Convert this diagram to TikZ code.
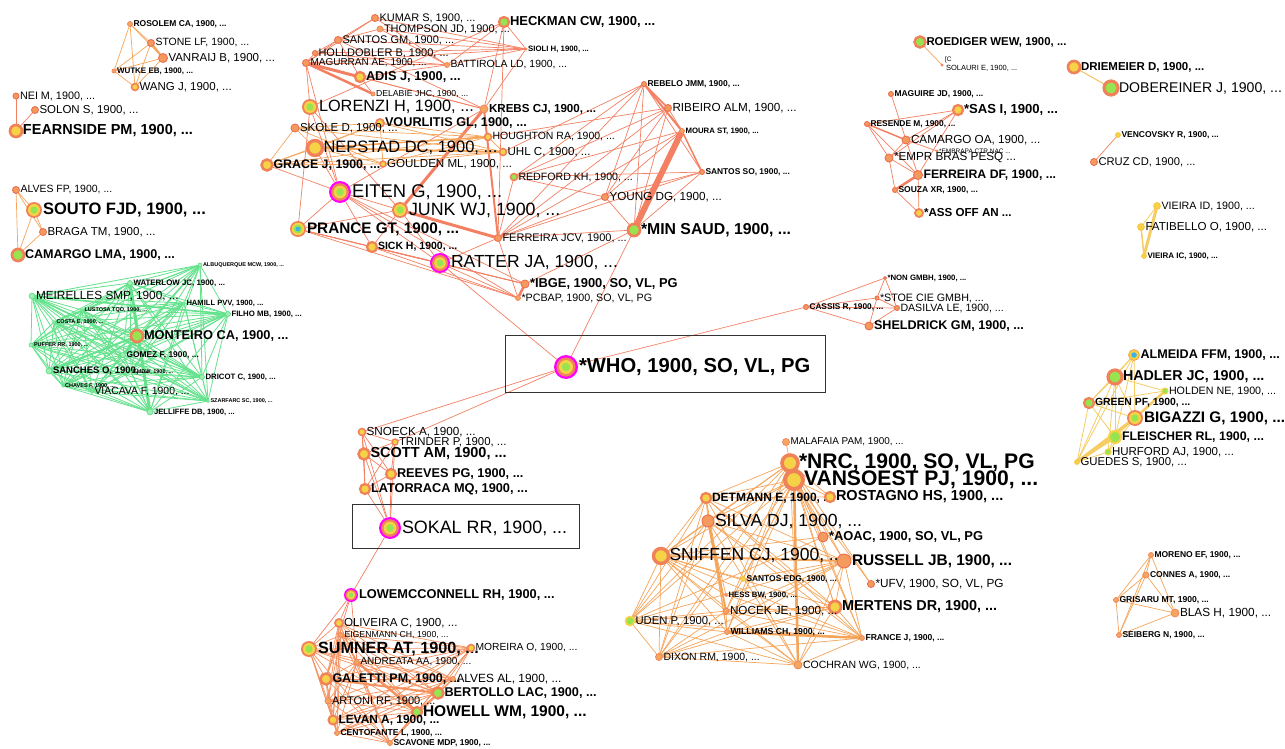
\documentclass[tikz,border=0pt]{standalone}
\usepackage{fontspec}
\setmainfont{Liberation Sans}
\usetikzlibrary{backgrounds}
\definecolor{cO}{RGB}{240,130,90}
\definecolor{cR}{RGB}{236,112,82}
\definecolor{cOl}{RGB}{245,165,95}
\definecolor{cY}{RGB}{246,210,70}
\definecolor{cG}{RGB}{150,228,80}
\definecolor{cM}{RGB}{255,0,255}
\definecolor{cB}{RGB}{60,180,230}
\definecolor{cLG}{RGB}{160,238,180}
\definecolor{cLGd}{RGB}{90,220,130}
\definecolor{cER}{RGB}{243,128,98}
\definecolor{cEO}{RGB}{245,165,90}
\definecolor{cEG}{RGB}{100,226,140}
\definecolor{cEY}{RGB}{245,205,100}
\tikzset{
 nb/.style={circle, inner sep=0pt, outer sep=0pt, minimum size={2*#1pt}},
 sO/.style={nb=#1, fill=cOl, draw=cO, line width=0.7pt},
 sR/.style={nb=#1, fill=cOl!80!cR, draw=cR, line width=0.9pt},
 sY/.style={nb=#1, fill=cY, draw=cO, line width={0.45*#1pt}},
 sG/.style={nb=#1, fill=cG, draw=cO, line width={0.45*#1pt}},
 sGG/.style={nb=#1, fill=cG, draw=cY, line width={0.35*#1pt}},
 sYY/.style={nb=#1, fill=cY, draw=cY!80!orange, line width=0.6pt},
 sLG/.style={nb=#1, fill=cLG, draw=cLGd, line width=0.6pt},
 sGY/.style={nb=#1, fill=cO, path picture={
   \fill[cY] (path picture bounding box.center) circle[radius={0.75*#1pt}];
   \fill[cG] (path picture bounding box.center) circle[radius={0.45*#1pt}];}},
 sM/.style={nb=#1, fill=cM, path picture={
   \fill[cO] (path picture bounding box.center) circle[radius={0.8*#1pt}];
   \fill[cY] (path picture bounding box.center) circle[radius={0.58*#1pt}];
   \fill[cG] (path picture bounding box.center) circle[radius={0.35*#1pt}];}},
 sB/.style={nb=#1, fill=cO, path picture={
   \fill[cY] (path picture bounding box.center) circle[radius={0.78*#1pt}];
   \fill[cG] (path picture bounding box.center) circle[radius={0.55*#1pt}];
   \fill[cB] (path picture bounding box.center) circle[radius={0.3*#1pt}];}},
 sAl/.style={nb=#1, fill=cY, draw=cO!60!cY, line width=0.8pt, path picture={
   \fill[cB] (path picture bounding box.center) circle[radius={0.5*#1pt}];}},
 lr/.style={anchor=west, inner sep=0.8pt, font={\fontsize{#1}{#1}\selectfont}},
 lb/.style={anchor=west, inner sep=0.8pt, font={\fontsize{#1}{#1}\selectfont\bfseries}},
 eR/.style={draw=cER, line width=0.7pt},
 eO/.style={draw=cEO, line width=0.7pt},
 eG/.style={draw=cEG, line width=0.8pt},
 eY/.style={draw=cEY, line width=0.8pt},
 eS/.style={draw=cER!55!cEO, line width=0.7pt},
 hl/.style={draw=black!80, line width=0.9pt},
}
\newcommand\NL[6]{\node[#4] (#1) at (#2,#3) {}; \node[#5] (#1-t) at (#1.east) {#6};}
\newcommand\allpairs[2]{\foreach \a [count=\i] in {#2}{\foreach \b [count=\j] in {#2}{\ifnum\j>\i\relax \draw[#1] (\a) -- (\b);\fi}}}
\begin{document}
\begin{tikzpicture}[x=1pt,y=-1pt]
\useasboundingbox (0,0) rectangle (1285,749);
% ---------- top-left
\NL{rosolem}{130}{24}{sO=2.5}{lb=8.5}{ROSOLEM CA, 1900, ...}
\NL{stone}{151}{43}{sR=3.5}{lr=10.5}{STONE LF, 1900, ...}
\NL{vanraij}{163}{58}{sR=4.5}{lr=11.5}{VANRAIJ B, 1900, ...}
\NL{wutke}{114}{71}{sO=2}{lb=8}{WUTKE EB, 1900, ...}
\NL{wang}{135}{87}{sY=3.5}{lr=11.5}{WANG J, 1900, ...}
\NL{nei}{16}{96}{sR=3}{lr=10.8}{NEI M, 1900, ...}
\NL{solon}{35}{110}{sR=3.5}{lr=11.5}{SOLON S, 1900, ...}
\NL{fearnside}{16}{131}{sY=6}{lb=14.5}{FEARNSIDE PM, 1900, ...}
\NL{alvesfp}{16}{190}{sR=3.5}{lr=10.5}{ALVES FP, 1900, ...}
\NL{souto}{34}{210}{sGY=8}{lb=16.5}{SOUTO FJD, 1900, ...}
\NL{braga}{43}{232}{sR=3.5}{lr=11.5}{BRAGA TM, 1900, ...}
\NL{camlma}{18}{255}{sG=6}{lb=12.6}{CAMARGO LMA, 1900, ...}
% ---------- green cluster
\NL{albu}{200}{265}{sLG=2}{lb=5.5}{ALBUQUERQUE MCW, 1900, ...}
\NL{waterlow}{130}{283}{sLG=2.5}{lb=7.9}{WATERLOW JC, 1900, ...}
\NL{meirelles}{32}{296}{sLG=3}{lr=11.8}{MEIRELLES SMP, 1900, ...}
\NL{hamill}{184}{303}{sLG=1.5}{lb=7.6}{HAMILL PVV, 1900, ...}
\NL{lustosa}{82}{310}{sLG=1.5}{lb=5.5}{LUSTOSA TQO, 1900, ...}
\NL{filho}{228}{314}{sLG=2.5}{lb=7.8}{FILHO MB, 1900, ...}
\NL{costa}{54}{322}{sLG=1.5}{lb=5.5}{COSTA E, 1900, ...}
\NL{monteiro}{137}{336}{sG=6}{lb=12.8}{MONTEIRO CA, 1900, ...}
\NL{puffer}{31}{345}{sLG=2}{lb=5.5}{PUFFER RR, 1900, ...}
\NL{gomez}{123}{355}{sLG=2.5}{lb=8.4}{GOMEZ F, 1900, ...}
\NL{sanches}{49}{371}{sLG=3}{lb=9.5}{SANCHES O, 1900, ...}
\NL{emdw}{131}{372}{sLG=1.2}{lb=5.5}{EMDW, 1900, ...}
\NL{chaves}{63}{386}{sLG=1.2}{lb=5.5}{CHAVES F, 1900, ...}
\NL{dricot}{202}{377}{sLG=2.5}{lb=7.8}{DRICOT C, 1900, ...}
\NL{viacava}{92}{392}{sLG=1.5}{lr=10.4}{VIACAVA F, 1900, ...}
\NL{szarfarc}{208}{401}{sLG=1.5}{lb=5.5}{SZARFARC SC, 1900, ...}
\NL{jelliffe}{150}{412}{sLG=3}{lb=7.7}{JELLIFFE DB, 1900, ...}
% ---------- top-middle
\NL{kumar}{375}{18}{sR=3.5}{lr=11}{KUMAR S, 1900, ...}
\NL{thompson}{380}{29}{sO=3}{lr=11}{THOMPSON JD, 1900, ...}
\NL{heckman}{504}{22}{sG=5}{lb=13}{HECKMAN CW, 1900, ...}
\NL{santosgm}{338}{40}{sR=3.5}{lr=11}{SANTOS GM, 1900, ...}
\NL{sioli}{526}{49}{sO=1.2}{lb=7.8}{SIOLI H, 1900, ...}
\NL{holldobler}{315}{53}{sR=2.5}{lr=11}{HOLLDOBLER B, 1900, ...}
\NL{magurran}{306}{63}{sR=3.5}{lr=10}{MAGURRAN AE, 1900, ...}
\NL{battirola}{447}{65}{sO=2.5}{lr=10.4}{BATTIROLA LD, 1900, ...}
\NL{adis}{360}{77}{sY=5}{lb=12.8}{ADIS J, 1900, ...}
\NL{delabie}{373}{94}{sO=2}{lr=8.7}{DELABIE JHC, 1900, ...}
\NL{lorenzi}{310}{107}{sGY=8}{lr=16.3}{LORENZI H, 1900, ...}
\NL{krebs}{484}{109}{sO=4}{lb=11.6}{KREBS CJ, 1900, ...}
\NL{vourlitis}{380}{123}{sY=4}{lb=12.7}{VOURLITIS GL, 1900, ...}
\NL{skole}{295}{128}{sR=4}{lr=11.5}{SKOLE D, 1900, ...}
\NL{houghton}{488}{137}{sY=3.5}{lr=10.5}{HOUGHTON RA, 1900, ...}
\NL{nepstad}{315}{148}{sY=7.5}{lr=16.5}{NEPSTAD DC, 1900, ...}
\NL{uhl}{503}{152}{sY=3.5}{lr=11.6}{UHL C, 1900, ...}
\NL{grace}{267}{165}{sY=5.5}{lb=12.4}{GRACE J, 1900, ...}
\NL{goulden}{383}{164}{sY=3}{lr=11.6}{GOULDEN ML, 1900, ...}
\NL{redford}{514}{177}{sG=3.5}{lr=10.6}{REDFORD KH, 1900, ...}
\NL{eiten}{340}{192}{sM=11}{lr=18.4}{EITEN G, 1900, ...}
\NL{young}{605}{197}{sR=3.5}{lr=11.7}{YOUNG DG, 1900, ...}
\NL{junk}{400}{210}{sGY=8}{lr=17.8}{JUNK WJ, 1900, ...}
\NL{prance}{298}{229}{sB=8}{lb=15.3}{PRANCE GT, 1900, ...}
\NL{fjcv}{498}{238}{sR=3.5}{lr=11}{FERREIRA JCV, 1900, ...}
\NL{sick}{372}{247}{sY=5}{lb=10.5}{SICK H, 1900, ...}
\NL{ratter}{440}{263}{sM=10}{lr=17.5}{RATTER JA, 1900, ...}
\NL{minsaud}{634}{230}{sG=6}{lb=15.8}{*MIN SAUD, 1900, ...}
\NL{ibge}{525}{284}{sR=4}{lb=12.9}{*IBGE, 1900, SO, VL, PG}
\NL{pcbap}{518}{298}{sO=2.5}{lr=10.7}{*PCBAP, 1900, SO, VL, PG}
\NL{rebelo}{644}{84}{sR=2.5}{lb=8.5}{REBELO JMM, 1900, ...}
\NL{ribeiro}{668}{108}{sR=3.5}{lr=11.7}{RIBEIRO ALM, 1900, ...}
\NL{moura}{682}{131}{sO=2.5}{lb=7.8}{MOURA ST, 1900, ...}
\NL{santosso}{702}{172}{sR=2.5}{lb=8.4}{SANTOS SO, 1900, ...}
% ---------- top-right
\NL{roediger}{920}{42}{sG=5.5}{lb=11.4}{ROEDIGER WEW, 1900, ...}
\node[sO=1.2] (solauri) at (942,65) {};
\node[lr=6.5] (solc) at (944,60) {[C};
\node[lr=7.5] (solauri-t) at (945,68) {SOLAURI E, 1900, ...};
\NL{driemeier}{1074}{67}{sY=6}{lb=11.5}{DRIEMEIER D, 1900, ...}
\NL{dobereiner}{1111}{88}{sG=7}{lr=14.1}{DOBEREINER J, 1900, ...}
\NL{maguire}{891}{94}{sR=2.5}{lb=8.5}{MAGUIRE JD, 1900, ...}
\NL{sasi}{958}{110}{sY=5}{lb=13.1}{*SAS I, 1900, ...}
\NL{resende}{867}{124}{sR=2.5}{lb=8.4}{RESENDE M, 1900, ...}
\NL{camoa}{906}{140}{sR=4}{lr=11.7}{CAMARGO OA, 1900, ...}
\NL{embrapa}{937}{151}{sO=1}{lr=6.5}{*EMBRAPA CTR NAC ...}
\NL{empr}{889}{158}{sR=4}{lr=11.7}{*EMPR BRAS PESQ ...}
\NL{ferdf}{918}{175}{sR=4.5}{lb=12.3}{FERREIRA DF, 1900, ...}
\NL{souza}{895}{190}{sR=2.5}{lb=8.5}{SOUZA XR, 1900, ...}
\NL{assoff}{919}{213}{sY=4}{lb=11.6}{*ASS OFF AN ...}
\NL{vencovsky}{1118}{135}{sYY=2.5}{lb=8.5}{VENCOVSKY R, 1900, ...}
\NL{cruzcd}{1094}{162}{sR=3.5}{lr=11.2}{CRUZ CD, 1900, ...}
\NL{vieiraid}{1157}{206}{sYY=3.5}{lr=10.7}{VIEIRA ID, 1900, ...}
\NL{fatibello}{1141}{227}{sYY=3.5}{lr=11.6}{FATIBELLO O, 1900, ...}
\NL{vieiraic}{1144}{256}{sYY=2.5}{lb=8}{VIEIRA IC, 1900, ...}
% ---------- centre
\NL{who}{566}{367}{sM=12}{lb=20.2}{*WHO, 1900, SO, VL, PG}
\NL{nongmbh}{885}{278}{sR=1.5}{lb=7.8}{*NON GMBH, 1900, ...}
\NL{stoe}{877}{298}{sR=2}{lr=10.7}{*STOE CIE GMBH, ...}
\NL{cassis}{806}{307}{sR=2.5}{lb=8.3}{CASSIS R, 1900, ...}
\NL{dasilva}{897}{308}{sR=2.5}{lr=10.6}{DASILVA LE, 1900, ...}
\NL{sheldrick}{869}{326}{sR=4}{lb=12.6}{SHELDRICK GM, 1900, ...}
% ---------- right yellow cluster
\NL{almeida}{1134}{355}{sAl=5.5}{lb=12.6}{ALMEIDA FFM, 1900, ...}
\NL{hadler}{1115}{377}{sG=7}{lb=14.3}{HADLER JC, 1900, ...}
\NL{holden}{1165}{391}{sGG=3}{lr=10.7}{HOLDEN NE, 1900, ...}
\NL{greenpf}{1089}{403}{sG=5}{lb=10.4}{GREEN PF, 1900, ...}
\NL{bigazzi}{1135}{418}{sGY=8}{lb=15.3}{BIGAZZI G, 1900, ...}
\NL{fleischer}{1115}{437}{sGG=6}{lb=12.4}{FLEISCHER RL, 1900, ...}
\NL{hurford}{1108}{452}{sGG=3}{lr=11.5}{HURFORD AJ, 1900, ...}
\NL{guedes}{1077}{462}{sYY=2.5}{lr=11.4}{GUEDES S, 1900, ...}
% ---------- lower-right small
\NL{moreno}{1151}{555}{sO=2.5}{lb=8.5}{MORENO EF, 1900, ...}
\NL{connes}{1146}{575}{sO=3}{lb=8.5}{CONNES A, 1900, ...}
\NL{grisaru}{1116}{600}{sO=2.5}{lb=8.6}{GRISARU MT, 1900, ...}
\NL{blas}{1175}{613}{sO=4}{lr=11.8}{BLAS H, 1900, ...}
\NL{seiberg}{1119}{635}{sO=2.5}{lb=8.5}{SEIBERG N, 1900, ...}
% ---------- sokal cluster
\NL{snoeck}{362}{432}{sY=3.5}{lr=11.7}{SNOECK A, 1900, ...}
\NL{trinder}{395}{442}{sY=3}{lr=11.4}{TRINDER P, 1900, ...}
\NL{scott}{364}{454}{sY=5.5}{lb=14.5}{SCOTT AM, 1900, ...}
\NL{reeves}{391}{474}{sY=5}{lb=12.7}{REEVES PG, 1900, ...}
\NL{latorraca}{365}{489}{sY=5}{lb=12.75}{LATORRACA MQ, 1900, ...}
\NL{sokal}{390}{528}{sM=11}{lr=17.9}{SOKAL RR, 1900, ...}
\NL{lowe}{351}{595}{sM=7}{lb=12.8}{LOWEMCCONNELL RH, 1900, ...}
% ---------- bottom cluster
\NL{oliveira}{339}{623}{sY=4}{lr=11.6}{OLIVEIRA C, 1900, ...}
\NL{eigenmann}{341}{635}{sO=2.5}{lr=8.7}{EIGENMANN CH, 1900, ...}
\NL{sumner}{309}{649}{sGY=8}{lb=16.2}{SUMNER AT, 1900, ...}
\NL{moreira}{471}{648}{sY=3.5}{lr=10.3}{MOREIRA O, 1900, ...}
\NL{andreata}{357}{662}{sO=2.5}{lr=10}{ANDREATA AA, 1900, ...}
\NL{galetti}{326}{679}{sY=5.5}{lb=12.5}{GALETTI PM, 1900, ...}
\NL{alvesal}{453}{679}{sO=2.5}{lr=11.9}{ALVES AL, 1900, ...}
\NL{bertollo}{438}{693}{sG=5.5}{lb=12.7}{BERTOLLO LAC, 1900, ...}
\NL{artoni}{328}{701}{sO=3}{lr=11}{ARTONI RF, 1900, ...}
\NL{howell}{417}{712}{sG=5}{lb=15.5}{HOWELL WM, 1900, ...}
\NL{levan}{333}{720}{sY=4.5}{lb=11.9}{LEVAN A, 1900, ...}
\NL{centofante}{337}{733}{sO=2.5}{lb=8.6}{CENTOFANTE L, 1900, ...}
\NL{scavone}{390}{743}{sO=2.5}{lb=8.5}{SCAVONE MDP, 1900, ...}
% ---------- bottom-right cluster
\NL{malafaia}{786}{442}{sO=3.5}{lr=9.9}{MALAFAIA PAM, 1900, ...}
\NL{nrc}{790}{463}{sY=8}{lb=21.1}{*NRC, 1900, SO, VL, PG}
\NL{vansoest}{794}{480}{sY=9}{lb=21.1}{VANSOEST PJ, 1900, ...}
\NL{detmann}{706}{498}{sY=5}{lb=12}{DETMANN E, 1900, ...}
\NL{rostagno}{830}{497}{sY=5}{lb=14.5}{ROSTAGNO HS, 1900, ...}
\NL{silva}{708}{521}{sR=6}{lr=17.6}{SILVA DJ, 1900, ...}
\NL{aoac}{823}{537}{sR=5}{lb=12.9}{*AOAC, 1900, SO, VL, PG}
\NL{sniffen}{661}{556}{sY=7.5}{lr=17.5}{SNIFFEN CJ, 1900, ...}
\NL{russell}{844}{561}{sR=7}{lb=15.4}{RUSSELL JB, 1900, ...}
\NL{santosedg}{743}{579}{sYY=2.5}{lb=8.4}{SANTOS EDG, 1900, ...}
\NL{ufv}{871}{584}{sR=3.5}{lr=11.8}{*UFV, 1900, SO, VL, PG}
\NL{hess}{726}{595}{sO=1.5}{lb=7.8}{HESS BW, 1900, ...}
\NL{mertens}{835}{607}{sY=6}{lb=14.4}{MERTENS DR, 1900, ...}
\NL{nocek}{726}{611}{sO=3}{lr=11.7}{NOCEK JE, 1900, ...}
\NL{uden}{630}{621}{sGG=4.5}{lr=11.3}{UDEN P, 1900, ...}
\NL{williams}{727}{632}{sO=2.5}{lb=8.7}{WILLIAMS CH, 1900, ...}
\NL{france}{862}{638}{sO=2.5}{lb=8.6}{FRANCE J, 1900, ...}
\NL{dixon}{659}{657}{sO=3.5}{lr=10.5}{DIXON RM, 1900, ...}
\NL{cochran}{798}{665}{sO=4}{lr=10.5}{COCHRAN WG, 1900, ...}
% ---------- highlight boxes
\node[hl, minimum width=320pt, minimum height=57pt, inner sep=0pt] (whobox) at (665,363.5) {};
\node[hl, minimum width=227pt, minimum height=44pt, inner sep=0pt] (sokalbox) at (465.5,526) {};
% ---------- edges
\begin{scope}[on background layer]
\fill[white] (0,0) rectangle (1285,749);
\allpairs{eO}{rosolem,stone,vanraij,wutke,wang}
\draw[eO, line width=2pt] (stone) -- (vanraij);
\draw[eR] (nei) -- (fearnside);
\draw[eR] (solon) -- (fearnside);
\allpairs{eO}{alvesfp,souto,braga,camlma}
\allpairs{eG}{albu,waterlow,meirelles,hamill,lustosa,filho,costa,monteiro,puffer,gomez,sanches,emdw,chaves,dricot,viacava,szarfarc,jelliffe}
\draw[eG, line width=3pt] (waterlow) -- (jelliffe);
\draw[eG, line width=2pt] (monteiro) -- (sanches);
\draw[eG, line width=1.6pt] (meirelles) -- (dricot);
\draw[eG, line width=1.6pt] (meirelles) -- (filho);
% top-middle
\foreach \a/\b in {kumar/sioli,thompson/sioli,santosgm/sioli,holldobler/sioli,magurran/sioli,heckman/sioli,battirola/sioli,krebs/sioli,
 heckman/battirola,heckman/krebs,heckman/fjcv,kumar/magurran,kumar/santosgm,thompson/santosgm,santosgm/magurran,santosgm/holldobler,
 holldobler/magurran,holldobler/battirola,magurran/battirola,adis/delabie,adis/krebs,adis/battirola,santosgm/adis,santosgm/krebs,
 thompson/battirola,magurran/eiten,magurran/lorenzi,magurran/krebs,kumar/battirola,krebs/eiten,
 junk/eiten,junk/prance,junk/ratter,junk/lorenzi,junk/sick,eiten/prance,eiten/ratter,eiten/sick,eiten/lorenzi,eiten/nepstad,
 eiten/grace,eiten/ibge,eiten/pcbap,prance/ratter,prance/sick,prance/ibge,prance/pcbap,prance/lorenzi,sick/ratter,sick/ibge,sick/pcbap,
 ratter/ibge,ratter/pcbap,ratter/fjcv,ratter/who,ibge/minsaud,fjcv/pcbap,fjcv/redford,fjcv/young,fjcv/rebelo,fjcv/ribeiro,fjcv/moura,
 fjcv/santosso,fjcv/minsaud,redford/rebelo,redford/ribeiro,redford/moura,redford/santosso,redford/young,young/rebelo,young/ribeiro,
 young/moura,young/santosso,young/minsaud,minsaud/rebelo,minsaud/ribeiro,minsaud/santosso,minsaud/who,rebelo/santosso,ribeiro/moura,
 uhl/rebelo,houghton/ribeiro,lorenzi/heckman}
 {\draw[eR] (\a) -- (\b);}
\draw[eR, line width=3pt] (magurran) -- (adis);
\draw[eR, line width=2.5pt] (magurran) -- (delabie);
\draw[eR, line width=3pt] (krebs) -- (junk);
\draw[eR, line width=2pt] (krebs) -- (fjcv);
\draw[eR, line width=3pt] (junk) -- (fjcv);
\draw[eR, line width=2.5pt] (ibge) -- (pcbap);
\draw[eR, line width=6pt] (minsaud) -- (moura);
\draw[eR, line width=1.5pt] (rebelo) -- (ribeiro);
\draw[eR, line width=2pt] (rebelo) -- (moura);
\draw[eR, line width=1.5pt] (moura) -- (santosso);
\allpairs{eO}{grace,nepstad,skole,vourlitis,houghton,uhl,goulden}
\draw[eO, line width=2pt] (nepstad) -- (uhl);
\draw[eO, line width=1.5pt] (nepstad) -- (houghton);
% top-right
\foreach \a/\b in {maguire/camoa,resende/sasi,resende/empr,resende/ferdf,sasi/camoa,sasi/empr,sasi/ferdf,camoa/empr,camoa/ferdf,
 camoa/embrapa,empr/ferdf,empr/souza,ferdf/assoff,souza/assoff,vencovsky/cruzcd}
 {\draw[eR] (\a) -- (\b);}
\draw[eR, line width=1.5pt] (resende) -- (camoa);
\draw[eR, line width=2.5pt] (ferdf) -- (souza);
\draw[eO] (roediger) -- (solauri);
\draw[eY, draw=cEY!70!cEO, line width=1pt] (driemeier) -- (dobereiner);
\draw[eY] (vieiraid) -- (fatibello);
\draw[eY, line width=3pt] (vieiraid) -- (vieiraic);
\draw[eY, line width=1.5pt] (fatibello) -- (vieiraic);
% centre
\foreach \a/\b in {who/cassis,who/snoeck,who/trinder,cassis/nongmbh,cassis/stoe,cassis/dasilva,cassis/sheldrick,nongmbh/stoe,
 nongmbh/dasilva,stoe/dasilva,stoe/sheldrick,dasilva/sheldrick}
 {\draw[eR] (\a) -- (\b);}
% right yellow
\foreach \a/\b in {almeida/hadler,almeida/greenpf,almeida/fleischer,almeida/guedes,almeida/bigazzi,hadler/holden,hadler/greenpf,
 hadler/bigazzi,hadler/fleischer,hadler/hurford,hadler/guedes,greenpf/holden,greenpf/bigazzi,greenpf/fleischer,greenpf/guedes,
 bigazzi/fleischer,bigazzi/hurford,fleischer/hurford,hurford/guedes}
 {\draw[eY] (\a) -- (\b);}
\draw[eY, line width=2.5pt] (bigazzi) -- (holden);
\draw[eY, line width=3pt] (bigazzi) -- (guedes);
\draw[eY, line width=2.5pt] (fleischer) -- (guedes);
\allpairs{eO}{moreno,connes,grisaru,blas,seiberg}
% sokal
\allpairs{eR}{snoeck,trinder,scott,reeves,latorraca,sokal}
\draw[eR] (sokal) -- (lowe);
% bottom
\foreach \a/\b in {lowe/sumner,lowe/oliveira,lowe/galetti,lowe/andreata}{\draw[eR] (\a) -- (\b);}
\allpairs{eS}{sumner,oliveira,eigenmann,moreira,andreata,galetti,alvesal,bertollo,artoni,howell,levan,centofante,scavone}
\draw[eS, line width=2pt] (galetti) -- (bertollo);
\draw[eS, line width=2.5pt] (andreata) -- (howell);
% bottom-right
\allpairs{eO}{nrc,vansoest,detmann,silva,sniffen,russell,mertens,uden,dixon,cochran,williams,nocek,france}
\foreach \a/\b in {malafaia/nrc,rostagno/vansoest,rostagno/nrc,rostagno/detmann,aoac/vansoest,aoac/nrc,aoac/sniffen,ufv/nrc,ufv/vansoest,
 santosedg/russell,santosedg/sniffen,santosedg/vansoest,hess/france,hess/sniffen,hess/silva,aoac/uden}
 {\draw[eO] (\a) -- (\b);}
\draw[eO, line width=2.5pt] (vansoest) -- (cochran);
\draw[eO, line width=2.5pt] (williams) -- (france);
\draw[eO, line width=2pt] (sniffen) -- (russell);
\draw[eO, line width=2pt] (silva) -- (nocek);
\end{scope}
\end{tikzpicture}
\end{document}
